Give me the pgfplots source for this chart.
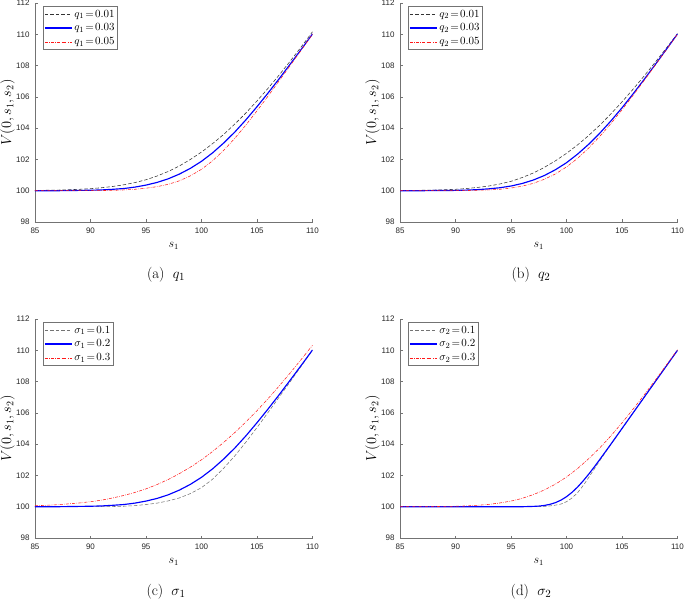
\documentclass[border=0pt]{standalone}
\usepackage{fontspec}
\usepackage{pgfplots}
\pgfplotsset{compat=1.18}
\newfontfamily\ticksans{Liberation Sans}
\definecolor{axgray}{gray}{0.45}
\definecolor{mblue}{rgb}{0,0,1}
\definecolor{mred}{rgb}{1,0.1,0.1}
\tikzset{
  dsh/.style={line width=0.55pt, dash pattern=on 3.5pt off 2pt},
  sol/.style={line width=1.15pt, color=mblue},
  dd/.style={line width=0.55pt, color=mred, dash pattern=on 3pt off 1.3pt on 0.6pt off 1.3pt},
}
\pgfplotsset{
  panel/.style={
    scale only axis, width=277.5pt, height=219pt,
    xmin=85, xmax=110, ymin=98, ymax=112,
    xtick={85,90,...,110}, ytick={98,100,...,112},
    axis x line*=bottom, axis y line*=left,
    axis line style={axgray, line width=0.6pt},
    tick align=inside, major tick length=2.5pt,
    tick style={axgray, line width=0.5pt},
    /pgf/number format/assume math mode=true,
    ticklabel style={font=\ticksans\fontsize{8}{9}\selectfont, text=black!85},
    xticklabel style={yshift=-2pt},
    yticklabel style={xshift=-2pt},
    xlabel={$s_1$},
    ylabel={$V(0,s_1,s_2)$},
    xlabel style={font=\fontsize{11.5}{13}\selectfont, at={(axis description cs:0.5,-0.110)}, anchor=center},
    ylabel style={font=\fontsize{14}{16}\selectfont, at={(axis description cs:-0.099,0.5)}, anchor=center},
    legend cell align=left,
    legend style={at={(axis description cs:0.029,0.985)}, anchor=north west,
      draw=black!55, line width=0.5pt, fill=white,
      font=\fontsize{11}{13}\selectfont, inner xsep=1pt, inner ysep=1.5pt,
      row sep=1.2pt},
    legend image code/.code={\draw[##1] (0pt,0pt) -- (27pt,0pt);},
  }
}
\begin{document}
\begin{tikzpicture}
\useasboundingbox (0,0) rectangle (685pt,603pt);

% ---------------- (a) q1
\begin{axis}[panel, at={(35pt,381pt)}, anchor=south west]
\addplot[dsh, black!80] coordinates {(85,100.02)(86,100.03)(87,100.04)(88,100.06)(89,100.09)(90,100.13)(91,100.19)(92,100.27)(93,100.38)(94,100.52)(95,100.70)(96,100.94)(97,101.23)(98,101.58)(99,102.00)(100,102.47)(101,103.01)(102,103.60)(103,104.26)(104,104.97)(105,105.74)(106,106.55)(107,107.40)(108,108.29)(109,109.21)(110,110.16)};
\addlegendentry{$q_1\!=\!0.01$}
\addplot[sol] coordinates {(85,100.00)(86,100.00)(87,100.00)(88,100.01)(89,100.02)(90,100.03)(91,100.05)(92,100.09)(93,100.14)(94,100.23)(95,100.36)(96,100.53)(97,100.76)(98,101.06)(99,101.43)(100,101.88)(101,102.42)(102,103.05)(103,103.75)(104,104.53)(105,105.37)(106,106.25)(107,107.16)(108,108.10)(109,109.05)(110,110.02)};
\addlegendentry{$q_1\!=\!0.03$}
\addplot[dd] coordinates {(85,100.00)(86,100.00)(87,100.00)(88,100.00)(89,100.00)(90,100.00)(91,100.01)(92,100.02)(93,100.05)(94,100.09)(95,100.16)(96,100.26)(97,100.41)(98,100.63)(99,100.95)(100,101.37)(101,101.91)(102,102.58)(103,103.35)(104,104.20)(105,105.11)(106,106.05)(107,107.03)(108,108.01)(109,109.00)(110,110.00)};
\addlegendentry{$q_1\!=\!0.05$}
\end{axis}

% ---------------- (b) q2
\begin{axis}[panel, at={(400pt,381pt)}, anchor=south west]
\addplot[dsh, black!80] coordinates {(85,100.01)(86,100.02)(87,100.03)(88,100.04)(89,100.06)(90,100.09)(91,100.14)(92,100.21)(93,100.30)(94,100.43)(95,100.60)(96,100.84)(97,101.13)(98,101.49)(99,101.91)(100,102.39)(101,102.93)(102,103.53)(103,104.19)(104,104.91)(105,105.68)(106,106.49)(107,107.34)(108,108.22)(109,109.12)(110,110.04)};
\addlegendentry{$q_2\!=\!0.01$}
\addplot[sol] coordinates {(85,100.00)(86,100.00)(87,100.00)(88,100.01)(89,100.01)(90,100.02)(91,100.04)(92,100.07)(93,100.12)(94,100.19)(95,100.30)(96,100.46)(97,100.68)(98,100.97)(99,101.34)(100,101.79)(101,102.34)(102,102.97)(103,103.68)(104,104.46)(105,105.30)(106,106.19)(107,107.12)(108,108.07)(109,109.04)(110,110.02)};
\addlegendentry{$q_2\!=\!0.03$}
\addplot[dd] coordinates {(85,100.00)(86,100.00)(87,100.00)(88,100.00)(89,100.00)(90,100.01)(91,100.01)(92,100.03)(93,100.05)(94,100.09)(95,100.17)(96,100.29)(97,100.47)(98,100.73)(99,101.07)(100,101.52)(101,102.07)(102,102.73)(103,103.47)(104,104.29)(105,105.17)(106,106.10)(107,107.05)(108,108.03)(109,109.01)(110,110.01)};
\addlegendentry{$q_2\!=\!0.05$}
\end{axis}

% ---------------- (c) sigma1
\begin{axis}[panel, at={(35pt,65pt)}, anchor=south west]
\addplot[dsh, black!55] coordinates {(85,100.00)(86,100.00)(87,100.00)(88,100.00)(89,100.00)(90,100.00)(91,100.00)(92,100.01)(93,100.03)(94,100.07)(95,100.14)(96,100.23)(97,100.37)(98,100.56)(99,100.84)(100,101.22)(101,101.76)(102,102.46)(103,103.25)(104,104.13)(105,105.06)(106,106.03)(107,107.01)(108,108.00)(109,109.00)(110,110.00)};
\addlegendentry{$\sigma_1\!=\!0.1$}
\addplot[sol] coordinates {(85,100.00)(86,100.00)(87,100.00)(88,100.01)(89,100.02)(90,100.03)(91,100.05)(92,100.09)(93,100.14)(94,100.23)(95,100.36)(96,100.53)(97,100.76)(98,101.06)(99,101.43)(100,101.88)(101,102.42)(102,103.05)(103,103.75)(104,104.53)(105,105.37)(106,106.25)(107,107.16)(108,108.10)(109,109.05)(110,110.02)};
\addlegendentry{$\sigma_1\!=\!0.2$}
\addplot[dd] coordinates {(85,100.06)(86,100.09)(87,100.13)(88,100.18)(89,100.24)(90,100.32)(91,100.42)(92,100.56)(93,100.72)(94,100.91)(95,101.14)(96,101.42)(97,101.74)(98,102.11)(99,102.53)(100,103.00)(101,103.53)(102,104.11)(103,104.74)(104,105.42)(105,106.14)(106,106.91)(107,107.72)(108,108.56)(109,109.43)(110,110.32)};
\addlegendentry{$\sigma_1\!=\!0.3$}
\end{axis}

% ---------------- (d) sigma2
\begin{axis}[panel, at={(400pt,65pt)}, anchor=south west]
\addplot[dsh, black!55] coordinates {(85,100.00)(87,100.00)(89,100.00)(91,100.00)(93,100.00)(95,100.00)(96,100.00)(97,100.00)(97.5,100.01)(98,100.02)(98.5,100.05)(99,100.10)(99.5,100.17)(100,100.32)(100.5,100.56)(101,100.90)(101.5,101.35)(102,101.87)(102.5,102.41)(103,102.95)(103.5,103.47)(104,103.98)(105,104.99)(106,106.00)(107,107.00)(108,108.00)(109,109.00)(110,110.00)};
\addlegendentry{$\sigma_2\!=\!0.1$}
\addplot[sol] coordinates {(85,100.00)(87,100.00)(89,100.00)(91,100.00)(93,100.00)(95,100.00)(96,100.00)(97,100.02)(97.5,100.04)(98,100.08)(98.5,100.15)(99,100.26)(99.5,100.42)(100,100.64)(100.5,100.92)(101,101.26)(101.5,101.65)(102,102.08)(102.5,102.54)(103,103.02)(103.5,103.51)(104,104.00)(105,105.00)(106,106.00)(107,107.00)(108,108.00)(109,109.00)(110,110.00)};
\addlegendentry{$\sigma_2\!=\!0.2$}
\addplot[dd] coordinates {(85,100.00)(86,100.00)(87,100.00)(88,100.01)(89,100.02)(90,100.03)(91,100.05)(92,100.09)(93,100.15)(94,100.24)(95,100.36)(96,100.53)(97,100.77)(98,101.07)(99,101.44)(100,101.90)(101,102.44)(102,103.07)(103,103.76)(104,104.53)(105,105.36)(106,106.24)(107,107.15)(108,108.09)(109,109.06)(110,110.03)};
\addlegendentry{$\sigma_2\!=\!0.3$}
\end{axis}

% captions
\node[font=\fontsize{15}{18}\selectfont] at (166pt,328pt) {(a)\hspace{0.55em}$q_1$};
\node[font=\fontsize{15}{18}\selectfont] at (531pt,328pt) {(b)\hspace{0.55em}$q_2$};
\node[font=\fontsize{15}{18}\selectfont] at (166pt,11pt) {(c)\hspace{0.55em}$\sigma_1$};
\node[font=\fontsize{15}{18}\selectfont] at (531pt,11pt) {(d)\hspace{0.55em}$\sigma_2$};
\end{tikzpicture}
\end{document}
